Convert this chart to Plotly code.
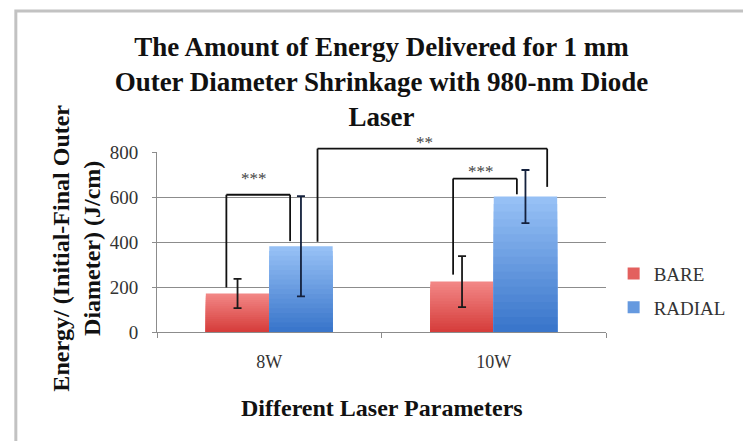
import plotly.graph_objects as go

# ---- data ----
categories = ["8W", "10W"]
bare_values = [171, 224]
bare_errors = [65, 113]
radial_values = [381, 602]
radial_errors = [223, 118]
series_names = ["BARE", "RADIAL"]
y_ticks = [0, 200, 400, 600, 800]
Y_MAX = 800

SERIF = "Liberation Serif, Times New Roman, serif"

FIG_W, FIG_H = 743, 441
PX0, PX1, PY0, PY1 = 157, 615, 152, 332   # plot area in page pixels
PW, PH = PX1 - PX0, PY1 - PY0


def px_to_paper_x(px):
    return (px - PX0) / PW


def px_to_paper_y(py):
    return (PY1 - py) / PH


# gradient colours (top -> bottom)
grad = {
    "BARE": ((242, 134, 133), (214, 62, 60)),
    "RADIAL": ((150, 192, 245), (58, 118, 203)),
}
err_col = {"BARE": "#1a1a1a", "RADIAL": "#14213d"}

N = 18
fig = go.Figure()
for name, vals, errs in [(series_names[0], bare_values, bare_errors),
                         (series_names[1], radial_values, radial_errors)]:
    top, bot = grad[name]
    for i in range(N):
        f = 1 - i / N
        t = i / (N - 1)
        c = tuple(round(top[k] + (bot[k] - top[k]) * t) for k in range(3))
        fig.add_trace(go.Bar(
            x=categories, y=[v * f for v in vals],
            offsetgroup=name, name=name, legendgroup=name,
            showlegend=(i == N // 2),
            marker=dict(color="rgb(%d,%d,%d)" % c, line=dict(width=0)),
            hoverinfo="skip",
        ))
    fig.add_trace(go.Bar(
        x=categories, y=vals, offsetgroup=name, name=name, legendgroup=name,
        showlegend=False,
        marker=dict(color="rgba(0,0,0,0)", line=dict(width=0)),
        error_y=dict(type="data", array=errs, visible=True,
                     color=err_col[name], thickness=1.8, width=4),
    ))

# significance brackets: (x_left, x_right, y_left_bottom, y_top, y_right_bottom, label, label_x, label_y)
brackets = [
    (-0.191, 0.093, 198, 610, 404, "***", -0.068, 684),
    (0.215, 1.238, 401, 815, 645, "**", 0.69, 843),
    (0.819, 1.103, 255, 682, 612, "***", 0.945, 714),
]
shapes = []
annotations = []
for xl, xr, yl, yt, yr, lab, lx, ly in brackets:
    ln = dict(color="#111111", width=1.8)
    shapes.append(dict(type="line", xref="x", yref="y domain", x0=xl, x1=xl,
                       y0=yl / Y_MAX, y1=yt / Y_MAX, line=ln))
    shapes.append(dict(type="line", xref="x", yref="y domain", x0=xl, x1=xr,
                       y0=yt / Y_MAX, y1=yt / Y_MAX, line=ln))
    shapes.append(dict(type="line", xref="x", yref="y domain", x0=xr, x1=xr,
                       y0=yt / Y_MAX, y1=yr / Y_MAX, line=ln))
    annotations.append(dict(x=lx, y=ly / Y_MAX, xref="x", yref="y domain", text=lab,
                            showarrow=False, font=dict(family=SERIF, size=17, color="#444444"),
                            yanchor="middle"))

# outer frame (cropped at right/bottom)
shapes.append(dict(type="rect", xref="paper", yref="paper",
                   x0=px_to_paper_x(13), x1=1.5, y0=-1.0, y1=px_to_paper_y(11),
                   line=dict(color="#c2c2c2", width=3), fillcolor="rgba(0,0,0,0)"))

annotations.append(dict(
    text="<b>Energy/ (Initial-Final Outer<br>Diameter) (J/cm)</b>",
    xref="paper", yref="paper", x=px_to_paper_x(74), y=px_to_paper_y(248),
    textangle=-90, showarrow=False, font=dict(family=SERIF, size=24, color="#111111"),
    xanchor="center", yanchor="middle"))
annotations.append(dict(
    text="<b>Different Laser Parameters</b>",
    xref="paper", yref="paper", x=0.5, y=px_to_paper_y(408),
    showarrow=False, font=dict(family=SERIF, size=24, color="#111111"),
    xanchor="center", yanchor="middle"))

fig.update_layout(
    width=FIG_W, height=FIG_H,
    margin=dict(l=PX0, r=FIG_W - PX1, t=PY0, b=FIG_H - PY1, pad=0),
    paper_bgcolor="white", plot_bgcolor="white",
    barmode="group", bargap=0.435, bargroupgap=0,
    title=dict(
        text="<b>The Amount of Energy Delivered for 1 mm<br>Outer Diameter Shrinkage with 980-nm Diode<br>Laser</b>",
        x=0.5, xref="paper", xanchor="center", y=1 - 56 / FIG_H, yanchor="top",
        font=dict(family=SERIF, size=27, color="#111111"),
    ),
    font=dict(family=SERIF, color="#333333"),
    showlegend=True,
    legend=dict(x=1.017, y=0.43, xanchor="left", yanchor="top",
                font=dict(family=SERIF, size=19, color="#333333"),
                traceorder="grouped", tracegroupgap=6,
                bgcolor="rgba(0,0,0,0)"),
    shapes=shapes, annotations=annotations,
)
fig.update_xaxes(
    type="category", showline=True, linecolor="#8c8c8c", linewidth=1,
    ticks="outside", tickson="boundaries", ticklen=5, tickcolor="#8c8c8c",
    showgrid=False, tickfont=dict(family=SERIF, size=18, color="#333333"),
    ticklabelstandoff=13,
)
fig.update_yaxes(
    range=[0, Y_MAX], tickvals=y_ticks, showline=True, linecolor="#8c8c8c",
    ticks="outside", ticklen=4, tickcolor="#8c8c8c",
    showgrid=True, gridcolor="#8c8c8c", gridwidth=1, zeroline=False,
    tickfont=dict(family=SERIF, size=19, color="#333333"),
    ticklabelstandoff=10,
)

fig.write_html(
    "out.html",
    config={"displayModeBar": False},
    post_script="document.body.style.margin='0px';document.body.style.overflow='hidden';",
)
